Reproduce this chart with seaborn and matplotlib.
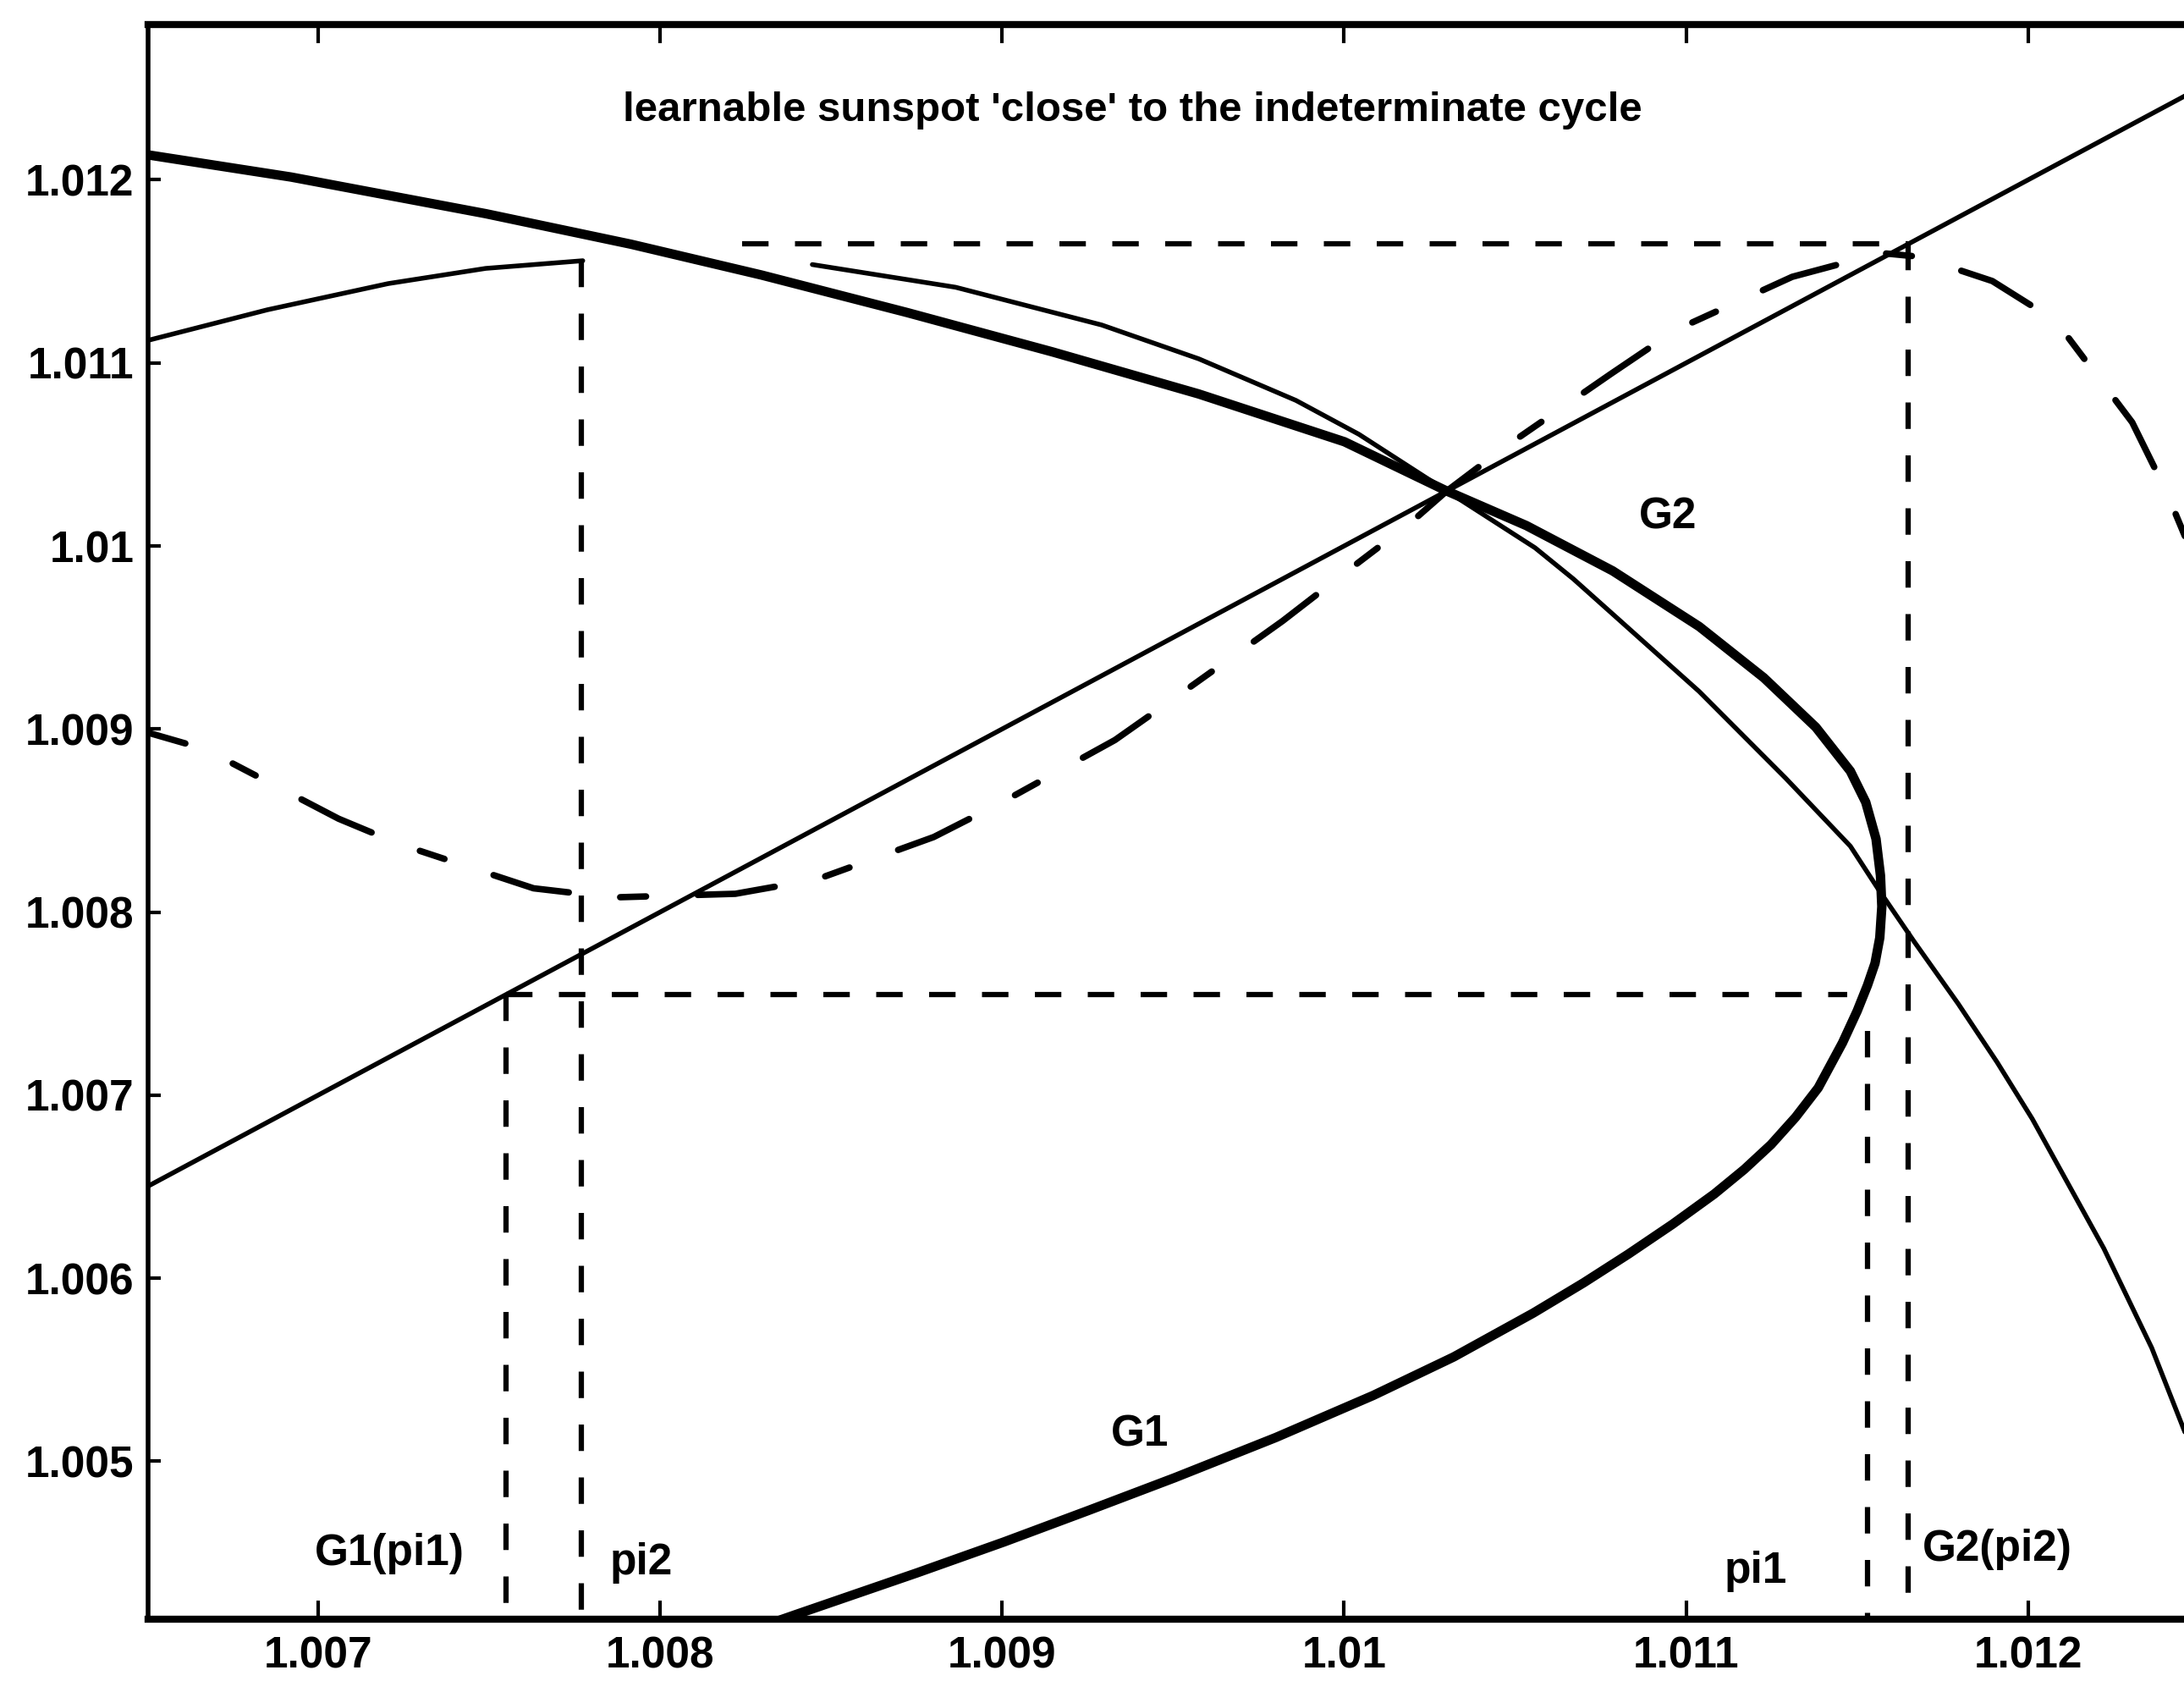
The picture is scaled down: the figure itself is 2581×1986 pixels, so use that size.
import matplotlib
matplotlib.use("Agg")
import matplotlib.pyplot as plt
import seaborn as sns

# 45-degree line y = x
diag_x = [1.00640, 1.01275]
diag_y = [1.00640, 1.01275]

# G1 (heavy curve), traced from upper left through the vertex and back down
g1_x = [1.006503, 1.006921, 1.007490, 1.007915, 1.008296, 1.008722, 1.009147,
        1.009575, 1.010001, 1.010300, 1.010533, 1.010785, 1.011038, 1.011227,
        1.011379, 1.011480, 1.011525, 1.011555, 1.011568, 1.011572, 1.011566,
        1.011552, 1.011530, 1.011500, 1.011457, 1.011386, 1.011320, 1.011248,
        1.011170, 1.011082, 1.010960, 1.010831, 1.010700, 1.010553, 1.010320,
        1.010085, 1.009800, 1.009504, 1.009250, 1.009006, 1.008750, 1.008400,
        1.008300]
g1_y = [1.012136, 1.012015, 1.011815, 1.011648, 1.011480, 1.011275, 1.011060,
        1.010830, 1.010569, 1.010300, 1.010111, 1.009864, 1.009560, 1.009280,
        1.009010, 1.008770, 1.008600, 1.008400, 1.008200, 1.008030, 1.007860,
        1.007720, 1.007600, 1.007460, 1.007286, 1.007040, 1.006880, 1.006730,
        1.006595, 1.006460, 1.006295, 1.006132, 1.005975, 1.005810, 1.005570,
        1.005360, 1.005130, 1.004910, 1.004730, 1.004560, 1.004390, 1.004165,
        1.004100]

# G2 (thin curve) through the indeterminate point
g2_x = [1.008445, 1.008864, 1.009291, 1.009575, 1.009859, 1.010043, 1.010300,
        1.010558, 1.010670, 1.010785, 1.011038, 1.011290, 1.011480, 1.011560,
        1.011666, 1.011795, 1.011909, 1.012012, 1.012221, 1.012361, 1.012460,
        1.012520]
g2_y = [1.011537, 1.011413, 1.011207, 1.011022, 1.010795, 1.010610, 1.010300,
        1.009990, 1.009820, 1.009628, 1.009205, 1.008733, 1.008360, 1.008130,
        1.007840, 1.007500, 1.007180, 1.006870, 1.006163, 1.005620, 1.005150,
        1.004850]

# short thin branch at the upper left, ending at pi2
g2_left_x = [1.006503, 1.006852, 1.007205, 1.007490, 1.007774]
g2_left_y = [1.011123, 1.011290, 1.011433, 1.011516, 1.011558]

# learnable sunspot path (dash-dot)
sun_x = [1.006503, 1.006670, 1.007060, 1.007240, 1.007630, 1.007860, 1.008220,
         1.008460, 1.008800, 1.009000, 1.009330, 1.009520, 1.009820, 1.010000,
         1.010190, 1.010300, 1.010470, 1.010780, 1.010970, 1.011310, 1.011570,
         1.011680, 1.011895, 1.012080, 1.012304, 1.012403, 1.012470, 1.012520]
sun_y = [1.008980, 1.008890, 1.008510, 1.008370, 1.008130, 1.008080, 1.008100,
         1.008180, 1.008410, 1.008600, 1.008940, 1.009190, 1.009590, 1.009850,
         1.010120, 1.010300, 1.010540, 1.010940, 1.011180, 1.011470, 1.011600,
         1.011580, 1.011447, 1.011230, 1.010675, 1.010300, 1.010000, 1.009700]

# cobweb points
PI1 = 1.01153
G1_PI1 = 1.00755
PI2 = 1.00777
G2_PI2 = 1.01165
G1_AT_PI1_END = 1.01147   # where the horizontal meets G1
G1_PI1_VSTART = 1.00735   # top of the pi1 drop line
PI2_TOP = 1.01156         # end of the upper-left branch
TOP_H_START = 1.00824

x_ticks = [1.007, 1.008, 1.009, 1.010, 1.011, 1.012]
x_tick_labels = ["1.007", "1.008", "1.009", "1.01", "1.011", "1.012"]
y_ticks = [1.005, 1.006, 1.007, 1.008, 1.009, 1.010, 1.011, 1.012]
y_tick_labels = ["1.005", "1.006", "1.007", "1.008", "1.009", "1.01", "1.011", "1.012"]

title = "learnable sunspot 'close' to the indeterminate cycle"

sns.set_theme(style="ticks")
plt.rcParams["font.family"] = ["Liberation Sans", "DejaVu Sans"]
plt.rcParams["font.weight"] = "bold"
plt.rcParams["text.color"] = "black"
plt.rcParams["xtick.color"] = "black"
plt.rcParams["ytick.color"] = "black"
plt.rcParams["xtick.labelcolor"] = "black"
plt.rcParams["ytick.labelcolor"] = "black"

fig = plt.figure(figsize=(25.81, 19.86), dpi=100)
ax = fig.add_axes([0.0678, 0.0368, 0.9788, 0.9486])
XMIN, XMAX = 1.006503, 1.012753
YMIN, YMAX = 1.004138, 1.012848

ink = "black"
thin = 4.0
heavy = 8.0

sns.lineplot(x=diag_x, y=diag_y, ax=ax, color=ink, lw=thin, estimator=None, sort=False)
sns.lineplot(x=g1_x, y=g1_y, ax=ax, color=ink, lw=heavy, estimator=None, sort=False)
sns.lineplot(x=g2_x, y=g2_y, ax=ax, color=ink, lw=thin, estimator=None, sort=False)
sns.lineplot(x=g2_left_x, y=g2_left_y, ax=ax, color=ink, lw=thin, estimator=None, sort=False)
sns.lineplot(x=sun_x, y=sun_y, ax=ax, color=ink, lw=5.5, estimator=None, sort=False,
             linestyle=(6, (12, 8, 4, 8)), dash_capstyle="round")

dash = dict(color=ink, lw=4.5, linestyle=(0, (5, 5)))
ax.plot([G1_PI1, G1_AT_PI1_END], [G1_PI1, G1_PI1], **dash)
ax.plot([G1_PI1, G1_PI1], [G1_PI1, YMIN], **dash)
ax.plot([PI1, PI1], [G1_PI1_VSTART, YMIN], **dash)
ax.plot([PI2, PI2], [PI2_TOP, YMIN], **dash)
ax.plot([TOP_H_START, G2_PI2], [G2_PI2, G2_PI2], **dash)
ax.plot([G2_PI2, G2_PI2], [G2_PI2, YMIN], **dash)

ax.set_xlim(XMIN, XMAX)
ax.set_ylim(YMIN, YMAX)
ax.set_xticks(x_ticks)
ax.set_xticklabels(x_tick_labels)
ax.set_yticks(y_ticks)
ax.set_yticklabels(y_tick_labels)
ax.tick_params(axis="x", direction="in", length=16, width=3, top=True, bottom=True,
               labelsize=37, pad=14, colors=ink)
ax.tick_params(axis="y", direction="in", length=11, width=3, left=True, right=False,
               labelsize=37, pad=12, colors=ink)
for lab in ax.get_xticklabels() + ax.get_yticklabels():
    lab.set_fontweight("bold")

for side in ("top", "bottom"):
    ax.spines[side].set_linewidth(6)
ax.spines["left"].set_linewidth(4)
ax.spines["right"].set_visible(False)
for sp in ax.spines.values():
    sp.set_color(ink)

txt = dict(fontsize=37, fontweight="bold", color=ink, ha="center", va="center")
ax.text(1.00938, 1.01238, title, **dict(txt, fontsize=35.5))
ax.text(1.010946, 1.010157, "G2", **txt)
ax.text(1.009402, 1.005146, "G1", **txt)
ax.text(1.007208, 1.004498, "G1(pi1)", **txt)
ax.text(1.007945, 1.004443, "pi2", **txt)
ax.text(1.011203, 1.004397, "pi1", **txt)
ax.text(1.011909, 1.004517, "G2(pi2)", **txt)

ax.grid(False)
ax.set_facecolor("white")
fig.patch.set_facecolor("white")
fig.savefig("out.png", dpi=100)
